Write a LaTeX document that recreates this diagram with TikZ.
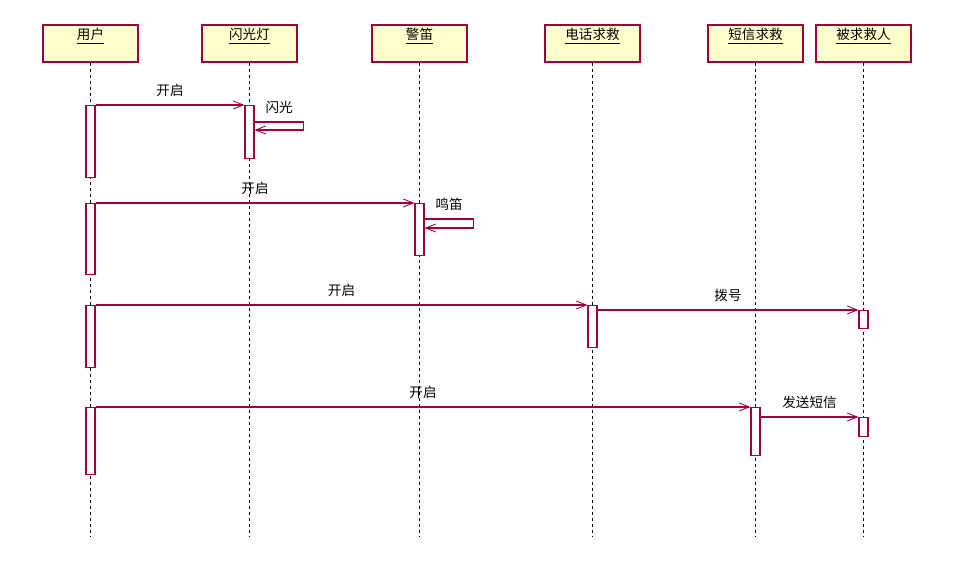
\documentclass[tikz,border=0pt]{standalone}
\usepackage{fontspec}
\usepackage{xcolor}
\newfontfamily\cjk{Noto Sans CJK SC}
\usetikzlibrary{arrows.meta,positioning}
\definecolor{umlred}{RGB}{160,0,64}
\definecolor{umlyellow}{RGB}{255,255,204}

\begin{document}
\begin{tikzpicture}[
        x=0.02cm, y=-0.02cm,
        font=\cjk\fontsize{7.7}{9}\selectfont,
        actor/.style={rectangle, draw=umlred, fill=umlyellow, line width=0.6pt, minimum width=1.9cm, inner sep=0pt, text height=0.3cm, text depth=0.44cm},
        lifeline/.style={draw=black, line width=0.5pt, dash pattern=on 0.06cm off 0.06cm},
        act/.style={rectangle, draw=umlred, fill=white, line width=0.6pt, minimum width=0.18cm, inner sep=0pt, anchor=north},
        msg/.style={draw=umlred, line width=0.6pt, -{Straight Barb[length=0.2cm,width=0.16cm,line width=0.5pt]}},
        lbl/.style={midway, above=1pt, text=black}
    ]
        \useasboundingbox (0,0) rectangle (957,563);

        % Actors
        \node[actor] (user) at (90.5,43.5) {\underline{用户}};
        \node[actor] (flash) at (249.5,43.5) {\underline{闪光灯}};
        \node[actor] (siren) at (419.5,43.5) {\underline{警笛}};
        \node[actor] (phone) at (592.5,43.5) {\underline{电话求救}};
        \node[actor] (sms) at (755.5,43.5) {\underline{短信求救}};
        \node[actor] (target) at (863.5,43.5) {\underline{被求救人}};

        % Lifelines
        \coordinate (userend) at (90.5,537);
        \coordinate (flashend) at (249.5,537);
        \coordinate (sirenend) at (419.5,537);
        \coordinate (phoneend) at (592.5,537);
        \coordinate (smsend) at (755.5,537);
        \coordinate (targetend) at (863.5,537);
        \draw[lifeline] (user.south) -- (userend);
        \draw[lifeline] (flash.south) -- (flashend);
        \draw[lifeline] (siren.south) -- (sirenend);
        \draw[lifeline] (phone.south) -- (phoneend);
        \draw[lifeline] (sms.south) -- (smsend);
        \draw[lifeline] (target.south) -- (targetend);

        % Activations
        \node[act, minimum height=1.44cm] (user1) at (90.5,105) {};
        \node[act, minimum height=1.06cm] (flash1) at (249.5,105) {};
        \node[act, minimum height=1.42cm] (user2) at (90.5,203) {};
        \node[act, minimum height=1.04cm] (siren1) at (419.5,203) {};
        \node[act, minimum height=1.24cm] (user3) at (90.5,305) {};
        \node[act, minimum height=0.84cm] (phone1) at (592.5,305) {};
        \node[act, minimum height=0.36cm] (target1) at (863.5,310) {};
        \node[act, minimum height=1.34cm] (user4) at (90.5,407) {};
        \node[act, minimum height=0.96cm] (sms1) at (755.5,407) {};
        \node[act, minimum height=0.38cm] (target2) at (863.5,417) {};

        % Messages
        \draw[msg] (user1.north east) -- node[lbl] {开启} (flash1.north west);
        \draw[msg] ([yshift=-0.34cm]flash1.north east) -- ++(49,0) node[lbl] {闪光} -- ++(0,8) -- ++(-49,0);

        \draw[msg] (user2.north east) -- node[lbl] {开启} (siren1.north west);
        \draw[msg] ([yshift=-0.32cm]siren1.north east) -- ++(49,0) node[lbl] {鸣笛} -- ++(0,9) -- ++(-49,0);

        \draw[msg] (user3.north east) -- node[lbl] {开启} (phone1.north west);
        \draw[msg] (target1.north west -| phone1.east) -- node[lbl] {拨号} (target1.north west);

        \draw[msg] (user4.north east) -- node[lbl] {开启} (sms1.north west);
        \draw[msg] (target2.north west -| sms1.east) -- node[lbl] {发送短信} (target2.north west);
    \end{tikzpicture}
\end{document}
